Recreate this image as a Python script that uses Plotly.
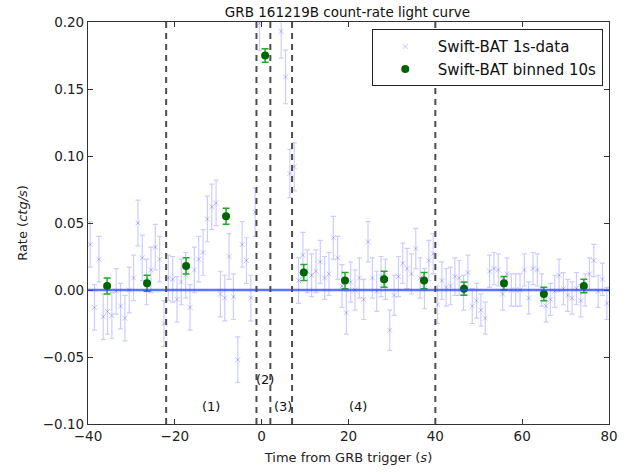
import plotly.graph_objects as go

# 1 s Swift-BAT data
t1 = [-39.5, -38.5, -37.5, -36.5, -35.5, -34.5, -33.5, -32.5, -31.5, -30.5,
      -29.5, -28.5, -27.5, -26.5, -25.5, -24.5, -23.5, -22.5, -21.5, -20.5,
      -19.5, -18.5, -17.5, -16.5, -15.5, -14.5, -13.5, -12.5, -11.5, -10.5,
      -9.5, -8.5, -7.5, -6.5, -5.5, -4.5, -3.5, -2.5, -1.5, -0.5,
      0.5, 1.5, 2.5, 3.5, 4.5, 5.5, 6.5, 7.5, 8.5, 9.5,
      10.5, 11.5, 12.5, 13.5, 14.5, 15.5, 16.5, 17.5, 18.5, 19.5,
      20.5, 21.5, 22.5, 23.5, 24.5, 25.5, 26.5, 27.5, 28.5, 29.5,
      30.5, 31.5, 32.5, 33.5, 34.5, 35.5, 36.5, 37.5, 38.5, 39.5,
      40.5, 41.5, 42.5, 43.5, 44.5, 45.5, 46.5, 47.5, 48.5, 49.5,
      50.5, 51.5, 52.5, 53.5, 54.5, 55.5, 56.5, 57.5, 58.5, 59.5,
      60.5, 61.5, 62.5, 63.5, 64.5, 65.5, 66.5, 67.5, 68.5, 69.5,
      70.5, 71.5, 72.5, 73.5, 74.5, 75.5, 76.5, 77.5, 78.5, 79.5]
rate1 = [0.034, -0.013, 0.023, -0.020, -0.016, -0.019, -0.001, -0.012, -0.021, 0.000,
         0.009, 0.050, 0.024, 0.006, 0.015, 0.032, 0.023, -0.025, 0.009, 0.008,
         -0.007, 0.006, 0.011, -0.013, 0.015, 0.023, 0.028, 0.053, 0.062, 0.065,
         -0.003, -0.006, 0.025, -0.005, -0.052, 0.034, 0.022, -0.006, 0.058, 0.199,
         0.235, 0.260, 0.250, 0.225, 0.193, 0.159, 0.087, 0.092, 0.007, 0.026,
         0.014, 0.011, 0.014, 0.021, 0.009, 0.012, 0.039, 0.024, 0.003, -0.017,
         0.006, 0.000, 0.009, -0.007, 0.036, 0.009, -0.001, 0.010, 0.008, -0.030,
         -0.004, 0.010, 0.020, 0.016, 0.012, 0.031, 0.009, 0.001, 0.022, 0.027,
         -0.011, 0.007, 0.002, 0.003, 0.010, 0.009, -0.002, 0.013, -0.012, -0.008,
         -0.015, -0.021, 0.014, 0.016, 0.015, -0.003, 0.012, 0.000, 0.000, 0.000,
         0.015, -0.006, 0.016, 0.015, 0.000, -0.012, -0.007, -0.001, 0.011, 0.001,
         -0.004, -0.006, 0.001, -0.008, 0.000, 0.012, 0.022, -0.001, 0.008, -0.010]
err1 = [0.017, 0.017, 0.017, 0.017, 0.017, 0.017, 0.017, 0.017, 0.017, 0.017,
        0.017, 0.017, 0.017, 0.017, 0.017, 0.017, 0.017, 0.017, 0.017, 0.017,
        0.017, 0.017, 0.017, 0.017, 0.017, 0.017, 0.017, 0.017, 0.017, 0.017,
        0.017, 0.017, 0.017, 0.017, 0.017, 0.017, 0.017, 0.017, 0.018, 0.020,
        0.020, 0.020, 0.020, 0.020, 0.020, 0.020, 0.018, 0.018, 0.017, 0.017,
        0.016, 0.016, 0.016, 0.016, 0.016, 0.016, 0.016, 0.016, 0.016, 0.016,
        0.015, 0.015, 0.015, 0.015, 0.015, 0.015, 0.015, 0.015, 0.015, 0.015,
        0.015, 0.015, 0.015, 0.015, 0.015, 0.015, 0.015, 0.015, 0.015, 0.015,
        0.014, 0.014, 0.014, 0.014, 0.014, 0.013, 0.013, 0.013, 0.013, 0.013,
        0.012, 0.012, 0.012, 0.012, 0.012, 0.012, 0.012, 0.012, 0.012, 0.012,
        0.012, 0.012, 0.012, 0.012, 0.012, 0.012, 0.012, 0.012, 0.012, 0.012,
        0.012, 0.012, 0.012, 0.012, 0.012, 0.012, 0.012, 0.012, 0.012, 0.012]

# 10 s binned data
t10 = [-35.6, -26.4, -17.4, -8.2, 0.8, 9.7, 19.2, 28.2, 37.4, 46.6, 55.8, 65.0, 74.2]
rate10 = [0.003, 0.005, 0.018, 0.055, 0.175, 0.013, 0.007, 0.008, 0.007, 0.001, 0.005, -0.003, 0.003]
err10 = [0.006, 0.006, 0.006, 0.006, 0.005, 0.006, 0.006, 0.006, 0.006, 0.005, 0.005, 0.005, 0.005]

# interval boundaries and labels
vlines = [-22.0, -1.2, 2.0, 7.0, 40.0]
lab_text = ["(1)", "(2)", "(3)", "(4)"]
lab_x = [-11.7, 0.8, 4.8, 22.2]
lab_y = [-0.087, -0.067, -0.087, -0.087]

x_range = [-40, 80]
y_range = [-0.10, 0.20]
x_ticks = [-40, -20, 0, 20, 40, 60, 80]
y_ticks = [-0.10, -0.05, 0.00, 0.05, 0.10, 0.15, 0.20]

FONT = "DejaVu Sans"

fig = go.Figure()

fig.add_trace(go.Scatter(
    x=t1, y=rate1, mode="markers", name="Swift-BAT 1s-data",
    marker=dict(symbol="x-thin", size=5, color="rgba(0,0,255,0.22)",
                line=dict(color="rgba(0,0,255,0.22)", width=1)),
    error_y=dict(type="data", array=err1, color="rgba(0,0,255,0.2)",
                 thickness=1.2, width=2.5),
))

fig.add_trace(go.Scatter(
    x=t10, y=rate10, mode="markers", name="Swift-BAT binned 10s",
    marker=dict(symbol="circle", size=8, color="#006400",
                line=dict(color="#006400", width=0)),
    error_y=dict(type="data", array=err10, color="#22aa22",
                 thickness=1.5, width=3.5),
))

shapes = []
shapes.append(dict(type="line", xref="x", yref="y", x0=x_range[0], x1=x_range[1],
                   y0=0, y1=0, line=dict(color="rgba(40,70,255,0.75)", width=2.5),
                   layer="above"))
for v in vlines:
    shapes.append(dict(type="line", xref="x", yref="paper", x0=v, x1=v, y0=0, y1=1,
                       line=dict(color="#4d4d4d", width=2, dash="6px,5px"),
                       layer="above"))

annotations = []
for tx, xx, yy in zip(lab_text, lab_x, lab_y):
    annotations.append(dict(x=xx, y=yy, xref="x", yref="y", text=tx, showarrow=False,
                            font=dict(family=FONT, size=13, color="#111")))

fig.update_layout(
    width=634, height=475,
    margin=dict(l=88, r=25, t=22, b=51),
    paper_bgcolor="white", plot_bgcolor="white",
    title=dict(text="GRB 161219B count-rate light curve", x=0.548, xanchor="center",
               y=0.985, yanchor="top",
               font=dict(family=FONT, size=13.5, color="#111")),
    font=dict(family=FONT, size=13.5, color="#222"),
    showlegend=True,
    legend=dict(x=0.988, xanchor="right", y=0.982, yanchor="top",
                bordercolor="#222", borderwidth=1, bgcolor="white",
                font=dict(family=FONT, size=15, color="#111"),
                itemwidth=55, tracegroupgap=2),
    shapes=shapes,
    annotations=annotations,
)

fig.update_xaxes(
    range=x_range, tickvals=x_ticks, ticktext=["\u221240", "\u221220", "0", "20", "40", "60", "80"],
    showgrid=False, zeroline=False, showline=True, linecolor="#333", linewidth=1.2,
    mirror="ticks", ticks="inside", ticklen=5, tickcolor="#333",
    title=dict(text="Time from GRB trigger (<i>s</i>)", standoff=9,
               font=dict(family=FONT, size=13, color="#222")),
)
fig.update_yaxes(
    range=y_range, tickvals=y_ticks,
    ticktext=["\u22120.10", "\u22120.05", "0.00", "0.05", "0.10", "0.15", "0.20"],
    showgrid=False, zeroline=False, showline=True, linecolor="#333", linewidth=1.2,
    mirror="ticks", ticks="inside", ticklen=5, tickcolor="#333",
    title=dict(text="Rate (<i>ctg/s</i>)", standoff=12,
               font=dict(family=FONT, size=13, color="#222")),
)

fig.write_html("out.html")
